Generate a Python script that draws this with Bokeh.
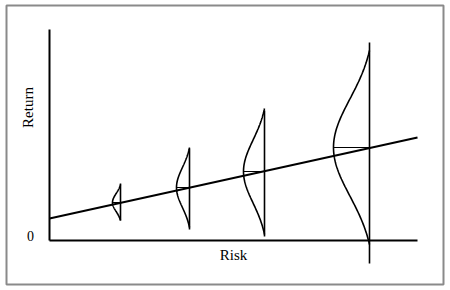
import numpy as np
from bokeh.plotting import figure
from bokeh.models import Range1d, Label
from bokeh.embed import file_html
from bokeh.resources import INLINE

# Risk levels, expected returns and spread of each return distribution
risk = [71, 140, 215, 320]
exp_return = [38, 53, 69, 93]
spread = [18, 40, 63, 97]          # half range of the bell curve
peak_width = [8, 13, 21, 36]       # bulge of the bell curve
stem_low = [20, 11, 4, -23]
stem_high = [57, 92, 130, 198]
trend_risk = [0, 368]
trend_return = [22, 103]
axis_risk_max = 368
axis_return_max = 211

p = figure(width=450, height=290, output_backend="svg", toolbar_location=None,
           x_range=Range1d(-43, 394), y_range=Range1d(-44, 235),
           x_axis_location=None, y_axis_location=None,
           min_border_left=6, min_border_right=7, min_border_top=5, min_border_bottom=6)
p.grid.visible = False
p.outline_line_color = "#8a8a8a"
p.outline_line_width = 2
p.background_fill_color = "white"
p.border_fill_color = "white"

# axes
p.line([0, 0], [0, axis_return_max], line_color="black", line_width=2)
p.line([0, axis_risk_max], [0, 0], line_color="black", line_width=2)

# trend line
p.line(trend_risk, trend_return, line_color="black", line_width=2)

t = np.linspace(-1, 1, 161)
k = 2.0
e_end = np.exp(-0.5 * k ** 2)
shape = (np.exp(-0.5 * (k * t) ** 2) - e_end) / (1 - e_end)
for x, mu, s, w, lo, hi in zip(risk, exp_return, spread, peak_width, stem_low, stem_high):
    ys = mu + s * t
    xs = x - w * shape
    p.line(xs, ys, line_color="black", line_width=1.6)
    p.line([x, x], [lo, hi], line_color="black", line_width=1.6)
    p.line([x - w, x], [mu, mu], line_color="black", line_width=1.1)

font = "Liberation Serif"
p.add_layout(Label(x=-19, y=5, text="0", text_font=font, text_font_size="14px",
                   text_align="center", text_baseline="middle", text_color="black"))
p.add_layout(Label(x=184, y=-14, text="Risk", text_font=font, text_font_size="15px",
                   text_align="center", text_baseline="middle", text_color="black"))
p.add_layout(Label(x=-22, y=133, text="Return", text_font=font, text_font_size="15px",
                   angle=np.pi / 2, text_align="center", text_baseline="middle",
                   text_color="black"))

open("out.html", "w").write(file_html(p, INLINE))
